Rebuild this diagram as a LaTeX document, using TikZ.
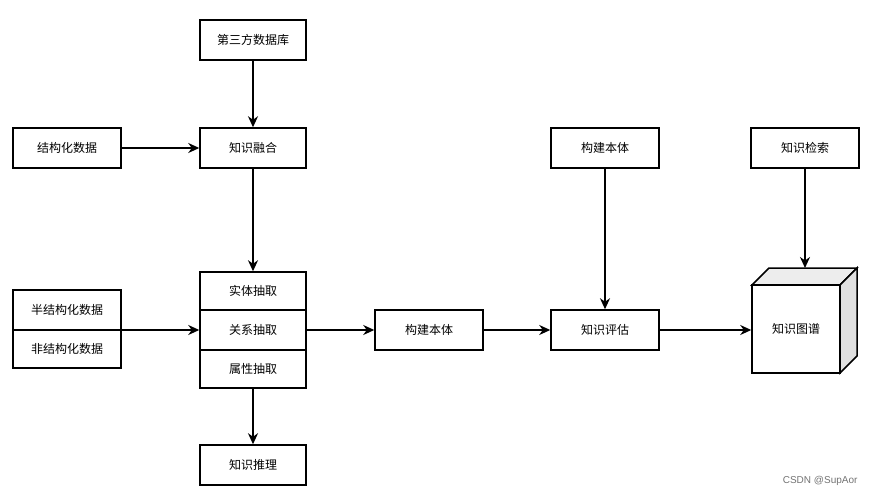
\documentclass[tikz,border=0pt]{standalone}
\usepackage{fontspec}
\setmainfont{Noto Sans CJK SC}
\newfontfamily\wmfont{Liberation Sans}
\usetikzlibrary{arrows.meta}
\begin{document}
\begin{tikzpicture}[x=1pt,y=-1pt,
  box/.style={draw=black,line width=1.5pt,fill=white,font=\fontsize{12}{14}\selectfont,inner sep=0pt},
  arr/.style={line width=1.6pt,-{Stealth[length=11pt,width=10pt,inset=3.5pt]}}]
\useasboundingbox (0,0) rectangle (875,498);
% boxes
\node[box,minimum width=106pt,minimum height=40pt] (db) at (253,40) {第三方数据库};
\node[box,minimum width=106pt,minimum height=40pt] (fuse) at (253,148) {知识融合};
\node[box,minimum width=108pt,minimum height=40pt] (struct) at (67,148) {结构化数据};
\node[box,minimum width=106pt,minimum height=38pt] (ent) at (253,291) {实体抽取};
\node[box,minimum width=106pt,minimum height=40pt] (rel) at (253,330) {关系抽取};
\node[box,minimum width=106pt,minimum height=38pt] (attr) at (253,369) {属性抽取};
\node[box,minimum width=108pt,minimum height=40pt] (semi) at (67,310) {半结构化数据};
\node[box,minimum width=108pt,minimum height=38pt] (unst) at (67,349) {非结构化数据};
\node[box,minimum width=108pt,minimum height=40pt] (onto) at (429,330) {构建本体};
\node[box,minimum width=108pt,minimum height=40pt] (eval) at (605,330) {知识评估};
\node[box,minimum width=108pt,minimum height=40pt] (onto2) at (605,148) {构建本体};
\node[box,minimum width=108pt,minimum height=40pt] (search) at (805,148) {知识检索};
\node[box,minimum width=106pt,minimum height=40pt] (reason) at (253,465) {知识推理};
% cube
\filldraw[line width=1.5pt,fill=black!7] (752,285) -- (769,268) -- (857,268) -- (840,285) -- cycle;
\filldraw[line width=1.5pt,fill=black!12] (840,285) -- (857,268) -- (857,356) -- (840,373) -- cycle;
\node[box,minimum width=88pt,minimum height=88pt] (kg) at (796,329) {知识图谱};
\coordinate (kgtop) at (805,268);
\coordinate (leftmid) at (121,330);
% arrows
\draw[arr] (db) -- (fuse);
\draw[arr] (struct) -- (fuse);
\draw[arr] (fuse) -- (ent);
\draw[arr] (leftmid) -- (rel.west);
\draw[arr] (rel) -- (onto);
\draw[arr] (onto) -- (eval);
\draw[arr] (onto2) -- (eval);
\draw[arr] (eval.east) -- (eval.east -| kg.west);
\draw[arr] (search.south -| kgtop) -- (kgtop);
\draw[arr] (attr) -- (reason);
% watermark
\node[font=\wmfont\fontsize{10}{12}\selectfont,text=black!55,anchor=east] (wm) at (861,481) {CSDN @SupAor};
\end{tikzpicture}
\end{document}
